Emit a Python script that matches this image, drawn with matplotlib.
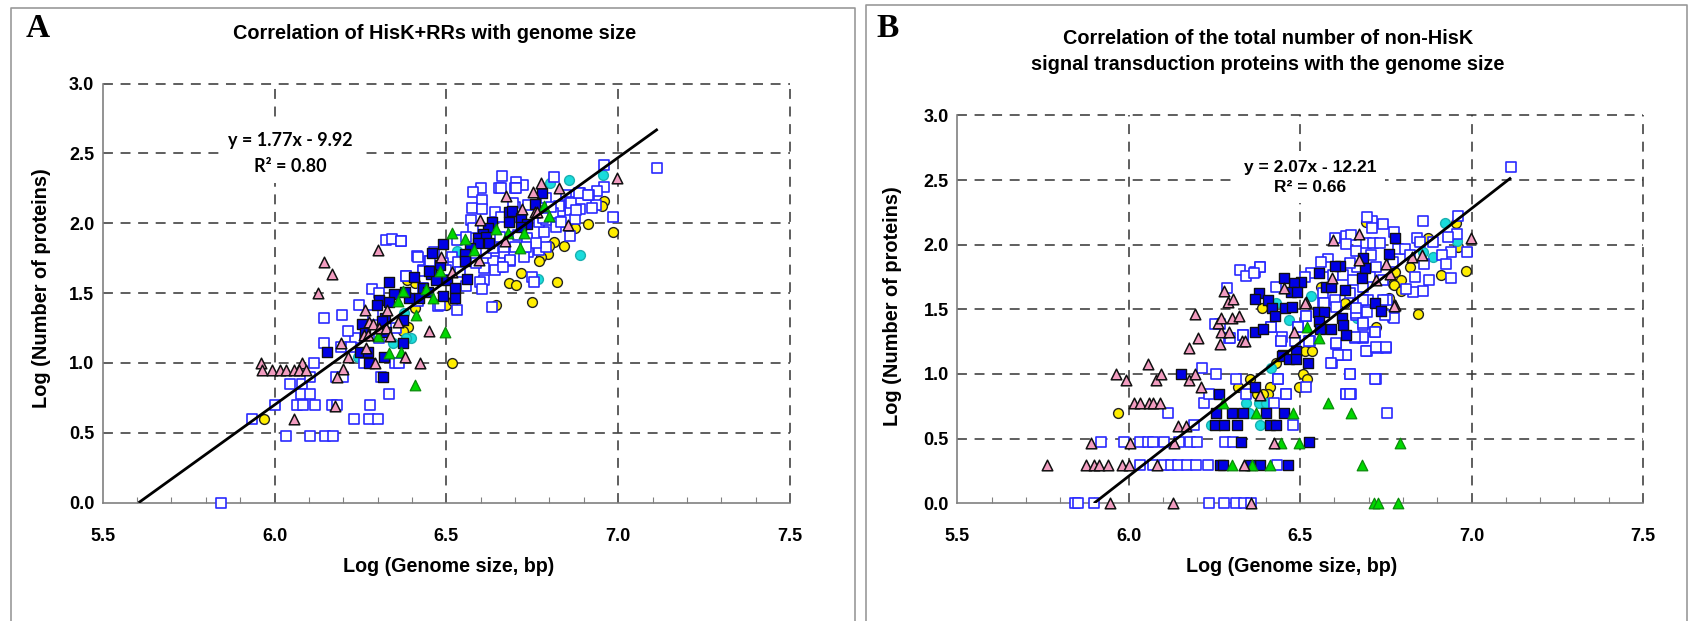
"""
Two panels: signal transduction protein counts against genome size
"""

import numpy as np
import matplotlib
matplotlib.use("Agg")
import matplotlib.pyplot as plt
from matplotlib.ticker import MultipleLocator

W, H = 1695, 621

# panel A, (log genome size, log proteins)
a_open = [(5.845,0.0),(5.934,.60),(6.0,.70),(6.045,.847),(6.08,.847),(6.102,.902),(6.078,.778),(6.102,.778),
(6.065,.70),(6.082,.70),(6.119,.70),(6.167,.70),(6.182,.70),(6.279,.70),(6.23,.60),(6.276,.60),(6.301,.60),
(6.032,.477),(6.102,.477),(6.147,.477),(6.17,.477),(6.332,.778),(6.31,.902),(6.179,.902),(6.2,.902),(6.116,1.0),
(6.259,1.0),(6.352,1.0),(6.363,1.0),(6.145,1.146),(6.194,1.117),(6.233,1.177),(6.214,1.229),(6.223,1.117),
(6.145,1.325),(6.197,1.344),(6.247,1.415),(6.284,1.53),(6.303,1.5),(6.286,1.344),(6.305,1.177),(6.323,1.88),
(6.342,1.888),(6.368,1.876),(6.415,1.766),(6.382,1.623),(6.431,1.666),(6.45,1.73),(6.465,1.797),(6.431,1.535),
(6.417,1.44),(6.475,1.408),(6.354,1.248),(7.113,2.394),(6.96,2.415),(6.958,2.262),(6.938,2.231),(6.888,2.215),
(6.914,2.203),(6.813,2.332),(6.723,2.274),(6.703,2.293),(6.699,2.25),(6.663,2.339),(6.652,2.255),(6.602,2.255),
(6.579,2.222),(6.604,2.167),(6.576,2.11),(6.603,2.105),(6.571,2.026),(6.641,2.081),(6.699,2.119),(6.66,2.048),
(6.694,1.976),(6.737,2.131),(6.791,2.179),(6.86,2.095),(6.888,2.103),(6.936,2.131),(6.923,2.107),(6.849,2.203),
(6.875,2.031),(6.986,2.048),(6.828,2.012),(6.784,1.936),(6.859,1.909),(6.771,2.012),(6.83,2.084),(6.776,2.084),
(6.735,1.881),(6.755,1.828),(6.771,1.809),(6.737,1.797),(6.699,1.833),(6.668,1.821),(6.668,1.761),(6.727,1.757),
(6.684,1.73),(6.655,1.714),(6.657,1.69),(6.636,1.73),(6.642,1.666),(6.609,1.683),(6.611,1.594),(6.597,1.582),
(6.604,1.53),(6.556,1.554),(6.75,1.618),(6.755,1.58),(6.633,1.399),(6.531,1.38),(6.481,1.415),(6.418,1.761),
(6.369,1.876),(6.531,1.881),(6.579,1.964),(6.515,1.757),(6.452,1.733),(6.558,1.905),(6.49,1.714),(6.534,1.726),
(6.432,1.661),(6.384,1.625),(6.79,1.833),(6.82,1.976),(6.708,1.917),(6.616,1.785),(6.636,1.821),(6.5,1.666),
(6.54,1.654),(6.587,1.714),(6.655,1.905),(6.791,2.024),(6.859,2.155),(6.829,2.12),(6.863,2.144),(6.81,2.07),
(6.834,2.01),(6.78,2.04),(6.693,2.144),(6.689,2.047),(6.736,1.894),(6.76,1.858),(6.684,1.737),(6.664,1.689),
(6.733,1.833),(6.703,2.25),(6.66,2.25),(6.805,2.119),(6.887,2.215),(6.911,2.2),(6.878,2.095)]
a_dark = [(6.778,2.217),(6.759,2.138),(6.681,2.079),(6.691,2.09),(6.681,2.012),(6.718,2.036),(6.735,1.995),
(6.718,1.976),(6.633,2.012),(6.621,1.964),(6.607,1.924),(6.592,1.897),(6.616,1.905),(6.624,1.857),(6.592,1.857),
(6.568,1.82),(6.555,1.78),(6.555,1.73),(6.49,1.854),(6.458,1.788),(6.481,1.70),(6.456,1.635),(6.471,1.592),
(6.502,1.594),(6.559,1.604),(6.432,1.54),(6.406,1.613),(6.446,1.51),(6.524,1.535),(6.524,1.463),(6.49,1.48),
(6.42,1.463),(6.391,1.463),(6.379,1.51),(6.374,1.308),(6.374,1.146),(6.45,1.66),(6.333,1.582),(6.349,1.494),
(6.305,1.451),(6.298,1.415),(6.334,1.434),(6.255,1.279),(6.321,1.32),(6.314,1.30),(6.262,1.212),(6.325,1.224),
(6.249,1.081),(6.271,1.081),(6.152,1.081),(6.274,1.0),(6.32,1.045),(6.315,.902)]
a_yellow = [(6.959,2.162),(6.953,2.124),(6.912,1.998),(6.875,1.964),(6.985,1.94),(6.843,1.835),(6.812,1.864),
(6.798,1.84),(6.796,1.78),(6.776,1.757),(6.771,1.73),(6.718,1.644),(6.823,1.582),(6.683,1.57),(6.703,1.556),
(6.75,1.434),(6.644,1.415),(6.515,.998),(6.5,1.415),(6.519,1.44),(6.389,1.255),(6.374,1.23),(6.408,1.57),
(6.386,1.594),(6.41,1.39),(5.968,.60)]
a_cyan = [(6.857,2.31),(6.803,2.289),(6.956,2.348),(6.889,1.773),(6.768,1.60),(6.531,1.80),(6.398,1.177),
(6.384,1.177),(6.461,1.69),(6.242,1.045),(6.346,1.14),(6.378,1.355)]
a_green = [(6.516,1.93),(6.555,1.885),(6.58,1.81),(6.645,1.957),(6.679,1.933),(6.725,1.933),(6.784,2.12),
(6.798,2.05),(6.715,1.826),(6.481,1.66),(6.44,1.527),(6.461,1.463),(6.374,1.515),(6.411,1.344),(6.495,1.224),
(6.369,1.08),(6.41,.842),(6.358,1.446),(6.30,1.193),(6.332,1.074)]
a_pink = [(6.30,1.81),(6.144,1.725),(6.167,1.64),(6.127,1.50),(6.264,1.38),(6.328,1.38),(6.276,1.296),(6.288,1.277),
(6.358,1.296),(6.303,1.25),(6.323,1.25),(6.259,1.20),(6.271,1.20),(6.336,1.19),(6.192,1.14),(6.45,1.23),
(6.266,1.11),(6.215,1.04),(6.381,1.04),(6.291,1.0),(6.423,1.0),(5.961,1.0),(6.08,1.0),(5.964,.95),(5.993,.95),
(6.015,.95),(6.034,.95),(6.058,.95),(6.07,.95),(6.092,.95),(6.199,.955),(6.181,.90),(6.175,.695),(6.056,.6),
(6.774,2.286),(6.828,2.255),(6.752,2.22),(6.673,2.196),(6.721,2.10),(6.757,2.083),(6.764,2.083),(6.597,2.02),
(6.854,1.99),(6.998,2.325),(6.672,1.87),(6.483,1.76),(6.595,1.74),(6.515,1.65)]

# panel B
b_open = [(5.844,0),(5.853,0),(5.898,0),(6.233,0),(6.277,0),(6.312,0),(6.336,0),(6.358,0),(6.032,.30),(6.07,.30),
(6.102,.30),(6.123,.30),(6.145,.30),(6.17,.30),(6.196,.30),(6.23,.30),(6.433,.30),(5.92,.477),(5.987,.477),
(6.033,.477),(6.055,.477),(6.07,.477),(6.102,.477),(6.148,.477),(6.178,.477),(6.2,.477),(6.28,.477),(6.304,.477),
(6.19,.603),(6.48,.603),(6.116,.70),(6.221,.778),(6.423,.778),(6.754,.70),(6.235,.845),(6.342,.845),(6.46,.845),
(6.633,.845),(6.647,.845),(6.213,1.044),(6.256,1.0),(6.314,.958),(6.436,.958),(6.517,.902),(6.645,1.0),(6.72,.958),
(6.592,1.082),(6.614,1.147),(6.635,1.147),(6.694,1.178),(6.726,1.203),(6.75,1.203),(6.604,1.232),(6.445,1.258),
(6.484,1.258),(6.528,1.258),(6.494,1.366),(6.416,1.366),(6.448,1.283),(6.265,1.384),(6.292,1.28),(6.333,1.30),
(6.286,1.667),(6.684,1.379),(6.718,1.327),(6.66,1.276),(6.684,1.276),(6.772,1.438),(6.663,1.46),(6.518,1.448),
(6.567,1.546),(6.67,1.546),(6.699,1.572),(6.754,1.572),(6.325,1.804),(6.342,1.76),(6.368,1.79),(6.383,1.83),
(6.251,1.384),(6.296,1.28),(6.332,1.30),(7.115,2.598),(6.961,2.222),(6.958,2.082),(6.932,2.062),(6.888,2.018),
(6.857,2.183),(6.742,2.157),(6.71,2.186),(6.695,2.216),(6.71,2.126),(6.773,2.10),(6.635,2.067),(6.603,2.049),
(6.649,2.075),(6.633,2.005),(6.693,2.01),(6.713,2.01),(6.733,2.01),(6.662,1.954),(6.786,1.964),(6.807,1.964),
(6.84,2.049),(6.85,2.023),(6.988,1.941),(6.939,1.946),(6.914,1.918),(6.924,1.85),(6.939,1.742),(6.861,1.848),
(6.834,1.753),(6.876,1.727),(6.858,1.644),(6.829,1.637),(6.81,1.655),(6.722,1.83),(6.666,1.825),(6.708,1.92),
(6.58,1.887),(6.584,1.83),(6.561,1.868),(6.532,1.778),(6.515,1.753),(6.384,1.83),(6.366,1.784),(6.43,1.675),
(6.568,1.624),(6.603,1.572),(6.571,1.546),(6.517,1.451),(6.662,1.469),(6.695,1.482),(6.773,1.436),(6.747,1.456),
(6.742,1.572),(6.644,1.624),(6.683,1.392),(6.717,1.327),(6.683,1.284),(6.659,1.284),(6.605,1.237),(6.493,1.366),
(6.415,1.366),(6.444,1.258),(6.527,1.258),(6.693,1.18),(6.722,1.206),(6.75,1.206),(6.635,1.147),(6.61,1.147),
(6.591,1.082),(6.644,1.0),(6.718,.959),(6.435,.959),(6.459,.845),(6.633,.845),(6.644,.845),(6.596,1.765),
(6.625,1.765),(6.644,1.856),(6.654,1.727),(6.683,1.675),(6.703,1.753),(6.742,1.727),(6.605,1.52),(6.683,1.572),
(6.664,1.508),(6.771,1.869),(6.82,1.92)]
b_dark = [(6.153,1.0),(6.263,.845),(6.369,.902),(6.256,.70),(6.3,.70),(6.334,.70),(6.399,.70),(6.453,.70),(6.251,.603),
(6.278,.603),(6.317,.603),(6.411,.603),(6.431,.603),(6.328,.477),(6.526,.477),(6.267,.30),(6.275,.30),(6.383,.30),
(6.466,.30),(6.354,.30),(6.45,1.147),(6.776,2.049),(6.758,1.925),(6.683,1.894),(6.69,1.822),(6.68,1.745),
(6.615,1.838),(6.603,1.838),(6.555,1.784),(6.503,1.709),(6.483,1.706),(6.454,1.74),(6.474,1.637),(6.491,1.637),
(6.574,1.675),(6.591,1.675),(6.632,1.649),(6.717,1.546),(6.735,1.49),(6.552,1.482),(6.571,1.482),(6.555,1.412),
(6.623,1.43),(6.625,1.379),(6.591,1.345),(6.558,1.345),(6.633,1.30),(6.379,1.624),(6.369,1.58),(6.405,1.572),
(6.418,1.508),(6.428,1.448),(6.457,1.508),(6.476,1.52),(6.369,1.322),(6.391,1.345),(6.447,1.14),(6.467,1.113),
(6.488,1.178),(6.488,1.113),(6.524,1.082)]
b_yellow = [(5.968,.70),(6.354,.958),(6.319,.902),(6.411,.902),(6.406,.845),(6.393,.845),(6.373,.845),(6.507,1.0),
(6.52,.958),(6.496,.902),(6.514,1.18),(6.535,1.18),(6.431,1.082),(6.388,1.508),(6.562,1.675),(6.772,1.695),
(6.985,1.8),(6.912,1.765),(6.844,1.464),(6.795,1.727),(6.773,1.688),(6.795,1.644),(6.778,1.79),(6.961,1.985),
(6.954,2.165),(6.693,2.178),(6.82,1.83),(6.72,1.366),(6.63,1.546),(6.76,1.585),(6.873,2.05)]
b_cyan = [(6.341,.778),(6.38,.778),(6.399,.778),(6.351,.70),(6.241,.603),(6.384,.603),(6.416,1.044),(6.467,1.418),
(6.532,1.606),(6.431,1.546),(6.922,2.165),(6.958,2.03),(6.888,1.907),(6.857,1.94),(6.666,1.43)]
b_green = [(6.275,.773),(6.372,.696),(6.48,.696),(6.581,.773),(6.647,.696),(6.681,.296),(6.301,.296),(6.36,.296),
(6.411,.296),(6.443,.47),(6.496,.47),(6.791,.464),(6.715,0),(6.726,0),(6.784,0),(6.519,1.361),(6.556,1.276)]
b_pink = [(5.762,.296),(5.875,.296),(5.899,.30),(5.912,.296),(5.941,.296),(5.98,.296),(6.0,.296),(6.082,.296),
(6.336,.296),(5.891,.47),(6.003,.47),(6.133,.47),(6.424,.47),(5.945,0),(6.128,0),(6.358,0),(6.144,.598),(6.167,.598),
(6.015,.778),(6.033,.778),(6.058,.778),(6.07,.778),(6.09,.778),(5.964,.997),(5.993,.954),(6.081,.954),(6.095,.997),
(6.056,1.077),(6.177,.954),(6.192,.997),(6.21,.902),(6.382,.838),(6.176,1.198),(6.201,1.276),(6.265,1.23),
(6.33,1.255),(6.34,1.255),(6.27,1.322),(6.292,1.322),(6.192,1.461),(6.26,1.392),(6.27,1.43),(6.301,1.43),
(6.322,1.448),(6.29,1.554),(6.305,1.58),(6.279,1.64),(6.453,1.662),(6.482,1.322),(6.516,1.554),(6.777,1.533),
(6.597,2.036),(6.673,2.082),(6.998,2.049),(6.671,1.881),(6.827,1.902),(6.854,1.918),(6.751,1.848),(6.761,1.773),
(6.722,1.727),(6.594,1.74),(6.515,1.552),(6.774,1.528)]

x_ticks = [5.5, 6.0, 6.5, 7.0, 7.5]
y_ticks = [0.0, 0.5, 1.0, 1.5, 2.0, 2.5, 3.0]

fit_a = (1.77, -9.92)
fit_b = (2.07, -12.21)
fit_end = 7.115


def make_panel(fig, box, series, fit):
    """box is left, right, top (3.0), bottom (0.0) in pixels"""
    l, r, t, b = box
    ax = fig.add_axes([l / W, 1 - b / H, (r - l) / W, (b - t) / H])
    ax.set_xlim(5.5, 7.5)
    ax.set_ylim(0, 3)
    ax.patch.set_alpha(0)
    for s in ["top", "right"]:
        ax.spines[s].set_visible(False)
    for s in ["left", "bottom"]:
        ax.spines[s].set_color("#808080")
        ax.spines[s].set_linewidth(1.2)

    ax.set_xticks(x_ticks)
    ax.set_yticks(y_ticks)
    ax.set_xticklabels([f"{v:.1f}" for v in x_ticks], fontweight="bold", fontsize=13)
    ax.set_yticklabels([f"{v:.1f}" for v in y_ticks], fontweight="bold", fontsize=13)
    ax.xaxis.set_minor_locator(MultipleLocator(0.1))
    ax.tick_params(axis="x", which="minor", direction="in", length=4, color="#808080", width=0.8)
    ax.tick_params(axis="x", which="major", direction="in", length=0, pad=18)
    ax.tick_params(axis="y", which="major", length=0, pad=6)
    for v in x_ticks[1:]:
        ax.axvline(v, color="#333333", lw=1.1, dashes=(6.5, 5), zorder=1, clip_on=False)
    for v in y_ticks[1:]:
        ax.axhline(v, color="#333333", lw=1.1, dashes=(6.5, 5), zorder=1, clip_on=False)

    for pts, marker, size, fc, ec, lw, z in series:
        xs = [p[0] for p in pts]
        ys = [p[1] for p in pts]
        ax.scatter(xs, ys, marker=marker, s=size, facecolor=fc, edgecolor=ec,
                   linewidth=lw, zorder=z, clip_on=False)

    m, c = fit
    xx = np.array([-c / m, fit_end])
    ax.plot(xx, m * xx + c, color="black", lw=2, zorder=9, solid_capstyle="butt")
    return ax


def styles(o, d, y, c, g, p):
    return [
        (y, "o", 50, "#ffee00", "#222222", 1.0, 3),
        (c, "o", 50, "#19dcdc", "#19b0b0", 1.0, 3),
        (o, "s", 46, "white", "#2a2aff", 1.2, 4),
        (d, "s", 48, "#0000e6", "#111111", 1.0, 5),
        (g, "^", 58, "#00d800", "#0a8a0a", 0.9, 6),
        (p, "^", 58, "#f29cc0", "#111111", 1.1, 7),
    ]


fig = plt.figure(figsize=(W / 100, H / 100), dpi=100)
plt.rcParams["font.family"] = ["Liberation Sans", "DejaVu Sans"]

ax_a = make_panel(fig, (102.7, 790, 83.5, 502.7),
                  styles(a_open, a_dark, a_yellow, a_cyan, a_green, a_pink), fit_a)
ax_b = make_panel(fig, (957.3, 1643, 115.4, 503.3),
                  styles(b_open, b_dark, b_yellow, b_cyan, b_green, b_pink), fit_b)

# 整张图的像素坐标层：外框和文字
page = fig.add_axes([0, 0, 1, 1], zorder=-1)
page.set_xlim(0, W)
page.set_ylim(H, 0)
page.axis("off")
page.plot([11, 11, 855, 855], [H, 8, 8, H], color="#999999", lw=1.2)
page.plot([866, 866, 1687, 1687], [H, 5, 5, H], color="#999999", lw=1.2)

page.text(26, 37, "A", family="Liberation Serif", fontweight="bold", fontsize=24, va="baseline")
page.text(876, 37, "B", family="Liberation Serif", fontweight="bold", fontsize=24, va="baseline")
page.text(435, 33.5, "Correlation of HisK+RRs with genome size", fontweight="bold", fontsize=14.3,
          ha="center", va="center")
page.text(1268, 51.5, "Correlation of the total number of non-HisK\nsignal transduction proteins with the genome size",
          fontweight="bold", fontsize=14.3, ha="center", va="center", linespacing=1.42)

page.text(448.5, 567, "Log (Genome size, bp)", fontweight="bold", fontsize=14.2, ha="center", va="center")
page.text(1292, 567, "Log (Genome size, bp)", fontweight="bold", fontsize=14.2, ha="center", va="center")
page.text(42, 288, "Log (Number of proteins)", fontweight="bold", fontsize=14.4, rotation=90,
          ha="center", va="center")
page.text(893, 306, "Log (Number of proteins)", fontweight="bold", fontsize=14.4, rotation=90,
          ha="center", va="center")

ax_a.text(6.047, 2.5, "y = 1.77x - 9.92\nR² = 0.80", family="Lato", fontweight="bold", fontsize=13,
          ha="center", va="center", linespacing=1.6, zorder=2,
          bbox=dict(facecolor="white", edgecolor="none", pad=6))
ax_b.text(6.53, 2.52, "y = 2.07x - 12.21\nR² = 0.66", fontweight="bold", fontsize=12.5,
          ha="center", va="center", linespacing=1.45, zorder=2,
          bbox=dict(facecolor="white", edgecolor="none", pad=6))

fig.savefig("out.png", dpi=100)
